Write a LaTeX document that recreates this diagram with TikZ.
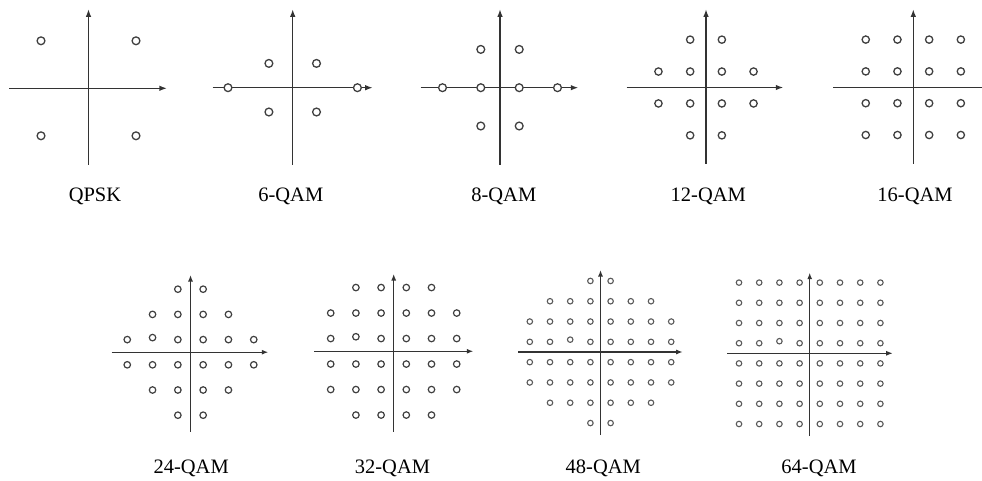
\documentclass[tikz,border=0pt]{standalone}
\usepackage{fontspec}
\setmainfont{Liberation Serif}
\usetikzlibrary{arrows.meta}
\begin{document}
\begin{tikzpicture}[x=1pt,y=-1pt,
  axis/.style={draw=black!80, line width=1.3pt, -{Latex[length=7.5pt,width=5.5pt]}},
  saxis/.style={draw=black!80, line width=1.2pt, -{Latex[length=6.5pt,width=5pt]}},
  plainaxis/.style={draw=black!80, line width=1.3pt},
  pt/.style={circle, draw=black!75, fill=white, line width=1.3pt, inner sep=0pt, minimum size=#1},
  spt/.style={pt=#1, line width=1.2pt},
  tpt/.style={pt=#1, line width=1.1pt, draw=black!65},
  lbl/.style={font=\fontsize{20.5}{24}\selectfont, text=black}]
\useasboundingbox (0,0) rectangle (982,481);

% ---------- QPSK ----------
\begin{scope}[shift={(88.5,88.3)}]
  \coordinate (qpskL) at (-79.2,0); \coordinate (qpskR) at (78.4,0);
  \coordinate (qpskB) at (0,76.7);  \coordinate (qpskT) at (0,-79);
  \draw[axis] (qpskL) -- (qpskR);
  \draw[axis] (qpskB) -- (qpskT);
  \foreach \x/\y [count=\k] in {-47.5/-47.5, 47.5/-47.5, -47.5/47.5, 47.5/47.5}
    \node[pt=7.8pt] (qpsk\k) at (\x,\y) {};
\end{scope}
\node[lbl] (lqpsk) at (95,196) {QPSK};

% ---------- 6-QAM ----------
\begin{scope}[shift={(292.7,87.7)}]
  \coordinate (q6L) at (-80,0); \coordinate (q6R) at (80,0);
  \coordinate (q6B) at (0,77.3); \coordinate (q6T) at (0,-78.4);
  \draw[axis] (q6L) -- (q6R);
  \draw[axis] (q6B) -- (q6T);
  \foreach \x/\y [count=\k] in {-23.8/-24.3, 23.8/-24.3, -64.7/0, 64.7/0, -23.8/24.3, 23.8/24.3}
    \node[pt=7.8pt] (q6p\k) at (\x,\y) {};
\end{scope}
\node[lbl] (lq6) at (290.8,196) {6-QAM};

% ---------- 8-QAM ----------
\begin{scope}[shift={(500,87.7)}]
  \coordinate (q8L) at (-79.3,0); \coordinate (q8R) at (78.3,0);
  \coordinate (q8B) at (0,77.3); \coordinate (q8T) at (0,-78.4);
  \draw[axis] (q8L) -- (q8R);
  \draw[axis] (q8B) -- (q8T);
  \foreach \x/\y [count=\k] in {-19.2/-38.3, 19.2/-38.3, -57.5/0, -19.2/0, 19.2/0, 57.5/0, -19.2/38.3, 19.2/38.3}
    \node[pt=7.8pt] (q8p\k) at (\x,\y) {};
\end{scope}
\node[lbl] (lq8) at (503.8,196) {8-QAM};

% ---------- 12-QAM ----------
\begin{scope}[shift={(706,87.5)}]
  \coordinate (q12L) at (-79.3,0); \coordinate (q12R) at (77.3,0);
  \coordinate (q12B) at (0,76.5); \coordinate (q12T) at (0,-78.2);
  \draw[axis] (q12L) -- (q12R);
  \draw[axis] (q12B) -- (q12T);
  \foreach \y/\xs [count=\k] in {-1.5/{-0.5,0.5}, -0.5/{-1.5,-0.5,0.5,1.5}, 0.5/{-1.5,-0.5,0.5,1.5}, 1.5/{-0.5,0.5}}
    \foreach \x [count=\m] in \xs
      \node[pt=7.3pt] (q12p\k-\m) at ({\x*31.7},{\y*31.9}) {};
\end{scope}
\node[lbl] (lq12) at (708.3,196) {12-QAM};

% ---------- 16-QAM ----------
\begin{scope}[shift={(913.3,87.3)}]
  \coordinate (q16L) at (-80,0); \coordinate (q16R) at (68.7,0);
  \coordinate (q16B) at (0,76.7); \coordinate (q16T) at (0,-78);
  \draw[plainaxis] (q16L) -- (q16R);
  \draw[axis] (q16B) -- (q16T);
  \foreach \y [count=\k] in {-1.5,-0.5,0.5,1.5}
    \foreach \x [count=\m] in {-1.5,-0.5,0.5,1.5}
      \node[pt=7.3pt] (q16p\k-\m) at ({\x*31.7},{\y*31.8}) {};
\end{scope}
\node[lbl] (lq16) at (915,196) {16-QAM};

% ---------- 24-QAM ----------
\begin{scope}[shift={(190.5,352.2)}]
  \coordinate (q24L) at (-78.8,0); \coordinate (q24R) at (77.8,0);
  \coordinate (q24B) at (0,79.5); \coordinate (q24T) at (0,-77.2);
  \draw[saxis] (q24L) -- (q24R);
  \draw[saxis] (q24B) -- (q24T);
  \foreach \y/\xs [count=\k] in {-2.5/{-0.5,0.5}, -1.5/{-1.5,-0.5,0.5,1.5}, -0.5/{-2.5,-0.5,0.5,1.5,2.5},
      0.5/{-2.5,-1.5,-0.5,0.5,1.5,2.5}, 1.5/{-1.5,-0.5,0.5,1.5}, 2.5/{-0.5,0.5}}
    \foreach \x [count=\m] in \xs
      \node[spt=6.5pt] (q24p\k-\m) at ({\x*25.3},{\y*25.2}) {};
  \node[spt=6.5pt] (q24s) at ({-1.5*25.3},{-0.5*25.2-2}) {};
\end{scope}
\node[lbl] (lq24) at (191.2,468) {24-QAM};

% ---------- 32-QAM ----------
\begin{scope}[shift={(393.7,351.3)}]
  \coordinate (q32L) at (-79.4,0); \coordinate (q32R) at (79.6,0);
  \coordinate (q32B) at (0,80.4); \coordinate (q32T) at (0,-77.3);
  \draw[saxis] (q32L) -- (q32R);
  \draw[saxis] (q32B) -- (q32T);
  \foreach \y/\xs [count=\k] in {-2.5/{-1.5,-0.5,0.5,1.5}, -1.5/{-2.5,-1.5,-0.5,0.5,1.5,2.5},
      -0.5/{-2.5,-0.5,0.5,1.5,2.5}, 0.5/{-2.5,-1.5,-0.5,0.5,1.5,2.5},
      1.5/{-2.5,-1.5,-0.5,0.5,1.5,2.5}, 2.5/{-1.5,-0.5,0.5,1.5}}
    \foreach \x [count=\m] in \xs
      \node[spt=6.5pt] (q32p\k-\m) at ({\x*25.2},{\y*25.5}) {};
  \node[spt=6.5pt] (q32s) at ({-1.5*25.2},{-0.5*25.5-1.8}) {};
\end{scope}
\node[lbl] (lq32) at (392.5,468) {32-QAM};

% ---------- 48-QAM ----------
\begin{scope}[shift={(600.5,352)}]
  \coordinate (q48L) at (-82.2,0); \coordinate (q48R) at (82.2,0);
  \coordinate (q48B) at (0,83); \coordinate (q48T) at (0,-82);
  \draw[saxis] (q48L) -- (q48R);
  \draw[saxis] (q48B) -- (q48T);
  \foreach \y/\xs [count=\k] in {-3.5/{-0.5,0.5}, -2.5/{-2.5,-1.5,-0.5,0.5,1.5,2.5},
      -1.5/{-3.5,-2.5,-1.5,-0.5,0.5,1.5,2.5,3.5}, -0.5/{-3.5,-2.5,-0.5,0.5,1.5,2.5,3.5},
      0.5/{-3.5,-2.5,-1.5,-0.5,0.5,1.5,2.5,3.5}, 1.5/{-3.5,-2.5,-1.5,-0.5,0.5,1.5,2.5,3.5},
      2.5/{-2.5,-1.5,-0.5,0.5,1.5,2.5}, 3.5/{-0.5,0.5}}
    \foreach \x [count=\m] in \xs
      \node[tpt=5.5pt] (q48p\k-\m) at ({\x*20.2},{\y*20.3}) {};
  \node[tpt=5.5pt] (q48s) at ({-1.5*20.2},{-0.5*20.3-2.2}) {};
\end{scope}
\node[lbl] (lq48) at (603.3,468) {48-QAM};

% ---------- 64-QAM ----------
\begin{scope}[shift={(809.7,353.3)}]
  \coordinate (q64L) at (-82.4,0); \coordinate (q64R) at (83,0);
  \coordinate (q64B) at (0,82.7); \coordinate (q64T) at (0,-80.6);
  \draw[saxis] (q64L) -- (q64R);
  \draw[saxis] (q64B) -- (q64T);
  \foreach \y/\xs [count=\k] in {-3.5/{-3.5,-2.5,-1.5,-0.5,0.5,1.5,2.5,3.5},
      -2.5/{-3.5,-2.5,-1.5,-0.5,0.5,1.5,2.5,3.5}, -1.5/{-3.5,-2.5,-1.5,-0.5,0.5,1.5,2.5,3.5},
      -0.5/{-3.5,-2.5,-0.5,0.5,1.5,2.5,3.5}, 0.5/{-3.5,-2.5,-1.5,-0.5,0.5,1.5,2.5,3.5},
      1.5/{-3.5,-2.5,-1.5,-0.5,0.5,1.5,2.5,3.5}, 2.5/{-3.5,-2.5,-1.5,-0.5,0.5,1.5,2.5,3.5},
      3.5/{-3.5,-2.5,-1.5,-0.5,0.5,1.5,2.5,3.5}}
    \foreach \x [count=\m] in \xs
      \node[tpt=5.5pt] (q64p\k-\m) at ({\x*20.2},{\y*20.2}) {};
  \node[tpt=5.5pt] (q64s) at ({-1.5*20.2},{-0.5*20.2-2}) {};
\end{scope}
\node[lbl] (lq64) at (819,468) {64-QAM};
\end{tikzpicture}
\end{document}
